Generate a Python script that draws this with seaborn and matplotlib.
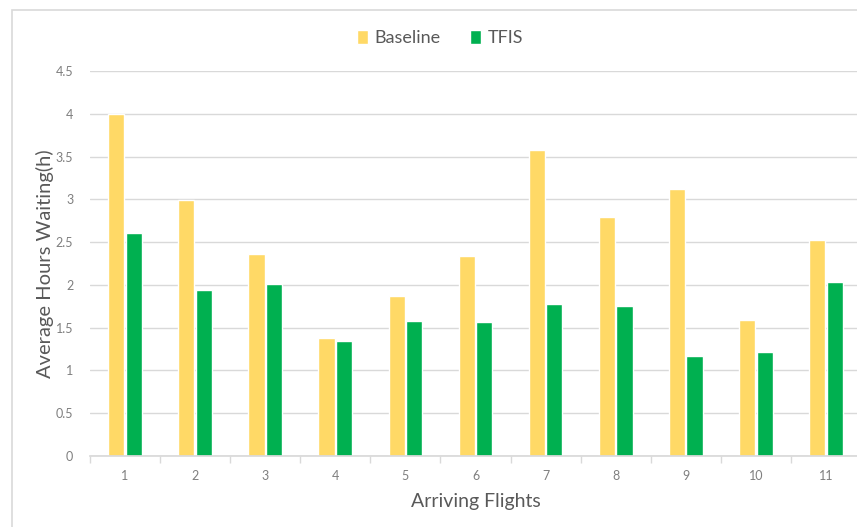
import pandas as pd
import matplotlib.pyplot as plt
import seaborn as sns
from matplotlib.patches import Rectangle

# Values
flights = ["1", "2", "3", "4", "5", "6", "7", "8", "9", "10", "11"]
baseline = [4.0, 2.99, 2.36, 1.38, 1.87, 2.34, 3.58, 2.79, 3.12, 1.59, 2.52]
tfis = [2.61, 1.94, 2.01, 1.34, 1.58, 1.57, 1.78, 1.75, 1.17, 1.22, 2.03]
y_ticks = [0, 0.5, 1, 1.5, 2, 2.5, 3, 3.5, 4, 4.5]
y_tick_labels = ["0", "0.5", "1", "1.5", "2", "2.5", "3", "3.5", "4", "4.5"]

df = pd.DataFrame({
    "Flight": flights * 2,
    "Hours": baseline + tfis,
    "Series": ["Baseline"] * len(flights) + ["TFIS"] * len(flights),
})

sns.set_theme(style="white")
plt.rcParams["font.family"] = ["Lato", "DejaVu Sans"]

fig = plt.figure(figsize=(8.57, 5.27), dpi=100)
# axes runs a bit past the right edge, as in the cropped reference
ax = fig.add_axes([90 / 857, 1 - 456 / 527, 771 / 857, 385 / 527])

# chart frame
fig.patches.append(Rectangle((12 / 857, -0.1), 1.2, 1 - 10 / 527 + 0.1,
                             transform=fig.transFigure, fill=False,
                             edgecolor="#d9d9d9", linewidth=1.2))

sns.barplot(data=df, x="Flight", y="Hours", hue="Series",
            palette={"Baseline": "#FFD966", "TFIS": "#00B050"},
            saturation=1, width=0.5, gap=0.08, ax=ax, legend=True)

ax.set_ylim(0, 4.5)
ax.set_xlim(-0.5, len(flights) - 0.5)
ax.set_yticks(y_ticks)
ax.set_yticklabels(y_tick_labels)
ax.yaxis.grid(True, color="#d9d9d9", linewidth=1)
ax.set_axisbelow(True)
for side in ["top", "right", "left"]:
    ax.spines[side].set_visible(False)
ax.spines["bottom"].set_color("#d9d9d9")

ax.set_xticks(range(len(flights)))
ax.set_xticklabels(flights)
ax.set_xticks([i - 0.5 for i in range(len(flights) + 1)], minor=True)
ax.tick_params(axis="x", which="major", length=0, pad=10, labelsize=9, labelcolor="#7f7f7f")
ax.tick_params(axis="x", which="minor", length=5, color="#d9d9d9", bottom=True)
ax.tick_params(axis="y", length=0, pad=12, labelsize=9, labelcolor="#7f7f7f")

ax.set_xlabel("Arriving Flights", fontsize=14, color="#595959", labelpad=8)
ax.set_ylabel("Average Hours Waiting(h)", fontsize=14.5, color="#595959", labelpad=1)

ax.legend(loc="center", bbox_to_anchor=(440 / 857, 1 - 38 / 527),
          bbox_transform=fig.transFigure, ncol=2, frameon=False,
          fontsize=13, handlelength=0.6, handleheight=0.8,
          handletextpad=0.4, columnspacing=1.6, labelcolor="#595959")

fig.savefig("out.png", dpi=100)
